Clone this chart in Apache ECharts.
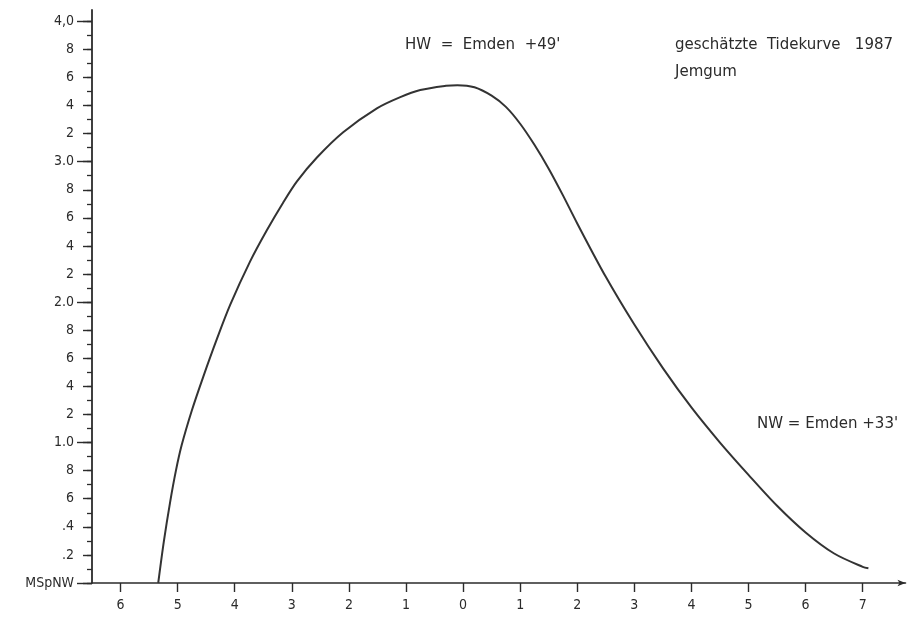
<!DOCTYPE html>
<html>
<head>
<meta charset="utf-8">
<script src="https://cdn.jsdelivr.net/npm/echarts@6/dist/echarts.min.js"></script>
<style>html,body{margin:0;padding:0;background:#fff}#c{width:913px;height:617px}</style>
</head>
<body>
<div id="c"></div>
<script>
// Hours relative to high water (negative = before HW)
const hours = [-5.34,-5.24,-5.13,-5.03,-4.93,-4.75,-4.55,-4.31,-4.08,-3.73,-3.44,-3.15,-2.91,-2.56,-2.10,-1.51,-1.10,-0.75,-0.30,-0.10,0.20,0.50,0.75,1.00,1.25,1.50,1.75,2.00,2.50,3.00,3.50,4.00,4.50,5.00,5.50,6.00,6.50,7.00,7.10];
// Water level above MSpNW (m)
const levels = [0.00,0.30,0.58,0.80,0.98,1.23,1.47,1.74,1.98,2.29,2.51,2.71,2.86,3.03,3.21,3.38,3.46,3.51,3.54,3.545,3.53,3.47,3.39,3.27,3.12,2.95,2.76,2.56,2.18,1.84,1.53,1.25,1.00,0.77,0.55,0.36,0.21,0.115,0.105];
const xTicks = [-6,-5,-4,-3,-2,-1,0,1,2,3,4,5,6,7];
const yTickLabels = ["MSpNW",".2",".4","6","8","1.0","2","4","6","8","2.0","2","4","6","8","3.0","2","4","6","8","4,0"];
const annotations = [
  {text:"HW  =  Emden  +49'", x:405, y:38},
  {text:"geschätzte  Tidekurve   1987", x:675, y:38},
  {text:"Jemgum", x:675, y:65},
  {text:"NW = Emden +33'", x:757, y:417}
];

const FONT = "DejaVu Sans Condensed";
const INK = "#2b2b2b";
const tenths = [], fifths = [];
for (let i = 0; i <= 40; i++) tenths.push(+(i/10).toFixed(1));
for (let i = 0; i <= 20; i++) fifths.push(+(i/5).toFixed(1));
const units = [0,1,2,3,4];

const yBase = {type:'value', min:0, max:4.08, position:'left', splitLine:{show:false}};
const chart = echarts.init(document.getElementById('c'), null, {renderer:'canvas'});
chart.setOption({
  animation:false,
  backgroundColor:'#fff',
  grid:{left:92, right:7.5, top:10, bottom:34, containLabel:false},
  xAxis:{
    type:'value', min:-6.5, max:7.75,
    axisLine:{show:true, onZero:false, lineStyle:{color:INK, width:1.6}, symbol:['none','arrow'], symbolSize:[5,8]},
    axisTick:{show:true, length:9, lineStyle:{color:INK,width:1.4}, customValues:xTicks},
    axisLabel:{customValues:xTicks, formatter:v=>String(Math.abs(Math.round(v))), color:INK, fontFamily:FONT, fontSize:14, margin:15},
    splitLine:{show:false}
  },
  yAxis:[
    Object.assign({}, yBase, {
      axisLine:{show:true, onZero:false, lineStyle:{color:INK, width:1.8}},
      axisTick:{show:true, length:5, lineStyle:{color:INK,width:1.3}, customValues:tenths},
      axisLabel:{show:false}
    }),
    Object.assign({}, yBase, {
      axisLine:{show:false, onZero:false},
      axisTick:{show:true, length:9, lineStyle:{color:INK,width:1.4}, customValues:fifths},
      axisLabel:{customValues:fifths, color:INK, fontFamily:FONT, fontSize:14, margin:18,
        formatter:v=>{const i=Math.round(v*5); return yTickLabels[i]!==undefined?yTickLabels[i]:'';}}
    }),
    Object.assign({}, yBase, {
      axisLine:{show:false, onZero:false},
      axisTick:{show:true, length:15, lineStyle:{color:INK,width:1.4}, customValues:units},
      axisLabel:{show:false}
    })
  ],
  series:[{
    type:'line', data:hours.map((h,i)=>[h,levels[i]]), smooth:0.3, showSymbol:false,
    lineStyle:{color:'#333', width:2}
  }],
  graphic:annotations.map(a=>({type:'text', left:a.x, top:a.y, style:{text:a.text, fill:INK, font:'15px "DejaVu Sans"'}}))
});
</script>
</body>
</html>
